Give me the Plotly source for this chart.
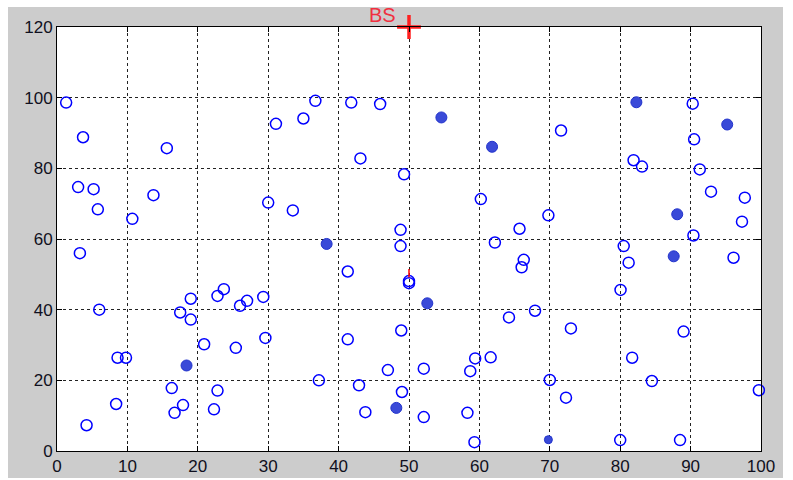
import plotly.graph_objects as go

# Normal nodes (open circles)
normal_x = [1.3, 3.7, 15.6, 3.0, 5.2, 13.7, 5.8, 10.7, 30.0, 31.1, 35.0, 36.7, 41.8, 45.9, 43.1, 49.3,
            33.5, 60.2, 48.8, 65.7, 48.8, 62.2, 90.3, 71.6, 90.5, 81.9, 83.1, 91.3, 92.9, 97.7, 97.3,
            69.8, 90.4, 80.5, 96.1, 81.2, 80.05, 67.9, 73.0, 89.0, 81.7, 70.0, 84.5, 99.7, 72.3, 80.0,
            88.5, 3.25, 6.0, 19.0, 17.5, 19.0, 22.8, 23.7, 26.0, 27.0, 29.3, 29.6, 20.9, 25.4, 8.6,
            9.8, 16.3, 22.8, 8.4, 17.9, 16.7, 22.3, 4.2, 41.3, 66.3, 66.0, 50.0, 50.0, 64.2, 48.9,
            41.3, 59.4, 61.6, 47.0, 52.1, 58.7, 37.2, 42.9, 49.0, 43.8, 52.1, 58.3, 59.3]
normal_y = [98.6, 88.8, 85.7, 74.7, 74.1, 72.4, 68.4, 65.7, 70.3, 92.6, 94.1, 99.1, 98.6, 98.2, 82.8, 78.3,
            68.1, 71.3, 62.6, 62.9, 58.0, 59.0, 98.3, 90.7, 88.2, 82.3, 80.5, 79.7, 73.4, 71.7, 64.9,
            66.7, 61.0, 58.0, 54.7, 53.3, 45.6, 39.7, 34.7, 33.8, 26.4, 20.1, 19.8, 17.2, 15.1, 3.1,
            3.1, 56.0, 40.0, 43.1, 39.2, 37.2, 43.9, 45.8, 41.1, 42.5, 43.6, 32.0, 30.2, 29.2, 26.4,
            26.4, 17.8, 17.1, 13.3, 13.0, 10.8, 11.8, 7.3, 50.8, 54.1, 52.0, 48.1, 47.5, 37.8, 34.1,
            31.6, 26.2, 26.5, 22.9, 23.3, 22.6, 20.0, 18.6, 16.7, 11.0, 9.6, 10.8, 2.5]

# Cluster heads (filled circles)
head_x = [54.6, 61.8, 38.3, 82.3, 95.2, 88.1, 87.6, 52.6, 18.4, 48.2]
head_y = [94.4, 86.1, 58.6, 98.7, 92.4, 67.0, 55.1, 41.8, 24.2, 12.2]
small_head_x = [69.8]
small_head_y = [3.2]

# Base station
bs_x = [50]
bs_y = [120]
bs_label = "BS"

# small red link segment
link_x = [50, 50]
link_y = [49.2, 51.5]

x_ticks = list(range(0, 101, 10))
y_ticks = list(range(0, 121, 20))

L, R, T, B = 57, 32, 27, 29
W, H = 793, 480
pw, ph = W - L - R, H - T - B

fig = go.Figure()
fig.add_trace(go.Scatter(x=normal_x, y=normal_y, mode="markers",
                         marker=dict(symbol="circle-open", size=11, color="#0000ff", line=dict(width=1.5, color="#0000ff")),
                         cliponaxis=False, showlegend=False))
fig.add_trace(go.Scatter(x=head_x, y=head_y, mode="markers",
                         marker=dict(symbol="circle", size=11, color="#3a4ad8", line=dict(width=1, color="#2233cc")),
                         cliponaxis=False, showlegend=False))
fig.add_trace(go.Scatter(x=small_head_x, y=small_head_y, mode="markers",
                         marker=dict(symbol="circle", size=8, color="#3a4ad8", line=dict(width=1, color="#2233cc")),
                         cliponaxis=False, showlegend=False))
fig.add_trace(go.Scatter(x=link_x, y=link_y, mode="lines",
                         line=dict(color="#ff0000", width=1.5), showlegend=False))
fig.add_trace(go.Scatter(x=bs_x, y=bs_y, mode="markers",
                         marker=dict(symbol="cross-thin", size=17, line=dict(width=3.5, color="#ff2020")),
                         cliponaxis=False, showlegend=False))

fig.add_annotation(x=bs_x[0], y=bs_y[0], text=bs_label, showarrow=False,
                   xanchor="right", yanchor="bottom", xshift=-11, yshift=-1,
                   font=dict(family="Liberation Sans", size=20, color="#f03040"))

def px_x(p):
    return (p - L) / pw

def px_y(p):
    return (H - B - p) / ph

shapes = []
for (x0, y0, x1, y1) in [(0, 0, W, 7), (0, 0, 8, H), (783, 0, W, H), (0, 478, W, H)]:
    shapes.append(dict(type="rect", xref="paper", yref="paper",
                       x0=px_x(x0), x1=px_x(x1), y0=px_y(y1), y1=px_y(y0),
                       fillcolor="white", line=dict(width=0), layer="above"))

axis_common = dict(showline=True, linecolor="black", linewidth=1, mirror="ticks",
                   ticks="inside", ticklen=5, tickcolor="black", tickwidth=1,
                   showgrid=True, gridcolor="#222222", gridwidth=1, griddash="3px,3px",
                   zeroline=False, automargin=False,
                   tickfont=dict(family="Liberation Sans", size=17, color="#101020"))

fig.update_layout(
    width=W, height=H,
    margin=dict(l=L, r=R, t=T, b=B, pad=0, autoexpand=False),
    paper_bgcolor="#cccccc", plot_bgcolor="white",
    xaxis=dict(range=[0, 100], tickvals=x_ticks, **axis_common),
    yaxis=dict(range=[0, 120], tickvals=y_ticks, **axis_common),
    shapes=shapes,
    showlegend=False,
)

fig.write_html("out.html")
